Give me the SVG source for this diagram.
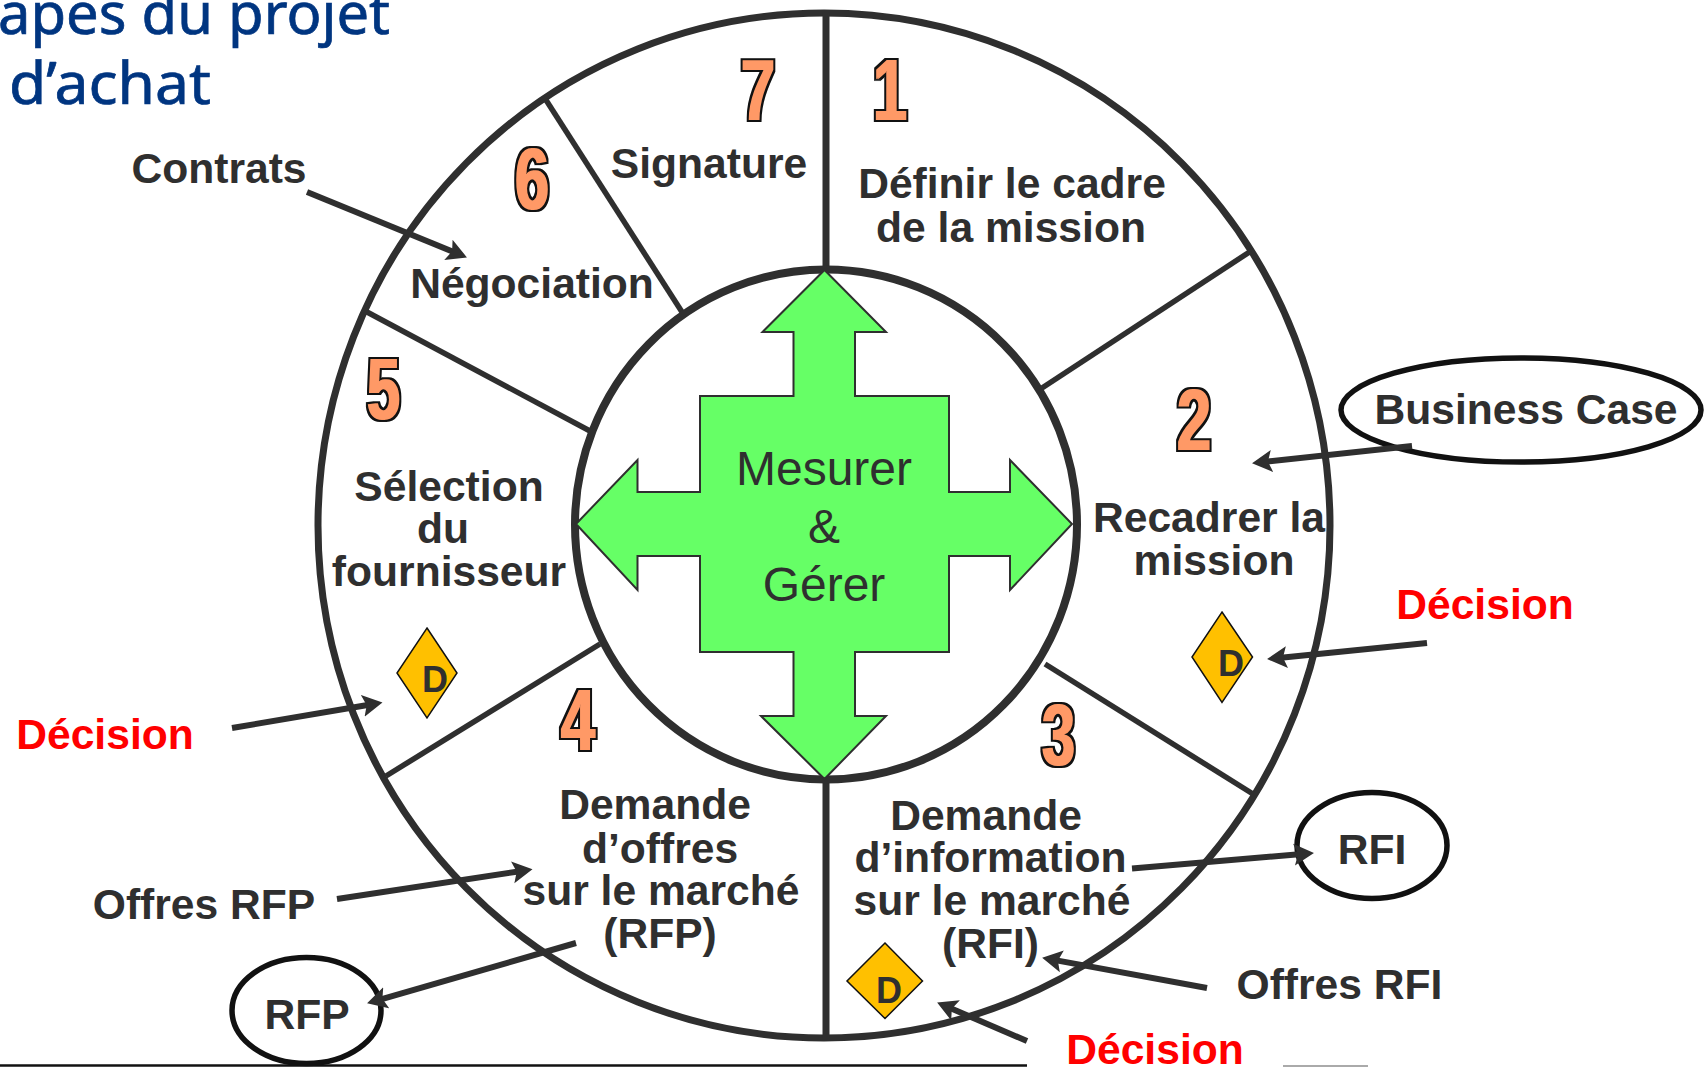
<svg xmlns="http://www.w3.org/2000/svg" width="1704" height="1067" viewBox="0 0 1704 1067">
<style>
text{font-family:"Liberation Sans",Arial,sans-serif}
.l{font-size:42.6px;font-weight:700;fill:#2f2f2f;text-anchor:middle}
.r{font-size:42.6px;font-weight:700;fill:#ff0000;text-anchor:middle}
.m{font-size:48px;fill:#2f2f2f;text-anchor:middle}
.n{font-size:88px;font-weight:700;fill:#ff9966;filter:url(#heavy)}
.t{font-family:"Noto Sans","Open Sans",sans-serif;font-size:58px;fill:#003580;stroke:#003580;stroke-width:.7px}
.d{font-size:36px;font-weight:700;fill:#2f2f2f;text-anchor:middle}
.dia{fill:#ffc000;stroke:#111;stroke-width:1.5}
.doc{fill:#fff;stroke:#111;stroke-width:5.5}
.ring{fill:#fff;stroke:#2f2f2f}
.sep{stroke:#2f2f2f;stroke-width:5.5;fill:none}
.axis{stroke:#2f2f2f;stroke-width:7;fill:none}
.arr{stroke:#2f2f2f;stroke-width:6;fill:none;marker-end:url(#ah)}
</style>
<defs>
<marker id="ah" markerUnits="userSpaceOnUse" markerWidth="22" markerHeight="24" viewBox="0 0 22 24" refX="11" refY="12" orient="auto">
<polygon points="0,1 20,12 0,23 4,12" fill="#2f2f2f"/>
</marker>
<filter id="heavy" x="-30%" y="-30%" width="160%" height="160%" color-interpolation-filters="sRGB">
<feMorphology in="SourceAlpha" operator="dilate" radius="2.6 1.8" result="a"/>
<feFlood flood-color="#111"/>
<feComposite in2="a" operator="in" result="b"/>
<feMorphology in="SourceAlpha" operator="dilate" radius="1.2 0.4" result="c"/>
<feFlood flood-color="#ff9966"/>
<feComposite in2="c" operator="in" result="e"/>
<feMerge><feMergeNode in="b"/><feMergeNode in="e"/></feMerge>
</filter>
</defs>
<rect width="1704" height="1067" fill="#fff"/>
<g id="title">
<text class="t" x="-2" y="34" textLength="392" lengthAdjust="spacingAndGlyphs">apes du projet</text>
<text class="t" x="9" y="104" textLength="202" lengthAdjust="spacingAndGlyphs">d’achat</text>
</g>
<g id="baseline">
<line x1="0" y1="1065.5" x2="1027" y2="1065.5" stroke="#111" stroke-width="2.5"/>
<line x1="1283" y1="1066" x2="1368" y2="1066" stroke="#aaa" stroke-width="2"/>
</g>
<g id="wheel">
<ellipse class="ring" cx="824" cy="525.5" rx="506" ry="512.5" stroke-width="7"/>
<line class="axis" x1="826" y1="13" x2="826" y2="269"/>
<line class="axis" x1="826" y1="780" x2="826" y2="1038"/>
<line class="sep" x1="546" y1="100" x2="682" y2="312"/>
<line class="sep" x1="367" y1="312" x2="590" y2="431"/>
<line class="sep" x1="1251" y1="251" x2="1042" y2="388"/>
<line class="sep" x1="1045" y1="664" x2="1253" y2="794"/>
<line class="sep" x1="600" y1="644" x2="386" y2="776"/>
<ellipse class="ring" cx="826" cy="524.5" rx="251" ry="255" stroke-width="8"/>
</g>
<g id="center">
<polygon points="824.5,270 886,332 855,332 855,396 949,396 949,492 1010,492 1010,460 1072,524 1010,590 1010,556 949,556 949,652 855,652 855,716 886,716 824.5,779 761,716 793.5,716 793.5,652 700,652 700,556 637.5,556 637.5,590 576,524 637.5,460 637.5,492 700,492 700,396 793.5,396 793.5,332 762.5,332" fill="#66ff66" stroke="#2f2f2f" stroke-width="2"/>
<text class="m" x="824" y="485">Mesurer</text>
<text class="m" x="824" y="543">&amp;</text>
<text class="m" x="824" y="601">Gérer</text>
</g>
<g id="step1">
<text class="n" x="873" y="120" textLength="34" lengthAdjust="spacingAndGlyphs">1</text>
<text class="l" x="1012" y="198">Définir le cadre</text>
<text class="l" x="1011" y="242">de la mission</text>
</g>
<g id="step2">
<text class="n" x="1177" y="450" textLength="34" lengthAdjust="spacingAndGlyphs">2</text>
<text class="l" x="1209" y="532">Recadrer la</text>
<text class="l" x="1214" y="575">mission</text>
<polygon class="dia" points="1222,612 1252.5,657 1222,702.5 1192,657"/>
<text class="d" x="1231" y="676">D</text>
</g>
<g id="step3">
<text class="n" x="1042" y="765" textLength="33" lengthAdjust="spacingAndGlyphs">3</text>
<text class="l" x="986" y="830">Demande</text>
<text class="l" x="990.5" y="872">d’information</text>
<text class="l" x="992" y="915">sur le marché</text>
<text class="l" x="990.5" y="958">(RFI)</text>
<polygon class="dia" points="885,943 922.5,981 885,1018.5 847,981"/>
<text class="d" x="889" y="1003">D</text>
</g>
<g id="step4">
<text class="n" x="561" y="750" textLength="34" lengthAdjust="spacingAndGlyphs">4</text>
<text class="l" x="655" y="819">Demande</text>
<text class="l" x="660" y="863">d’offres</text>
<text class="l" x="661" y="905">sur le marché</text>
<text class="l" x="660" y="948">(RFP)</text>
</g>
<g id="step5">
<text class="n" x="367" y="419" textLength="33" lengthAdjust="spacingAndGlyphs">5</text>
<text class="l" x="449" y="501">Sélection</text>
<text class="l" x="443" y="543">du</text>
<text class="l" x="449" y="586">fournisseur</text>
<polygon class="dia" points="427,628 457,673 427,718 397,673"/>
<text class="d" x="435" y="692">D</text>
</g>
<g id="step6">
<text class="n" x="515" y="209" textLength="34" lengthAdjust="spacingAndGlyphs">6</text>
<text class="l" x="532" y="298">Négociation</text>
</g>
<g id="step7">
<text class="n" x="741" y="120" textLength="34" lengthAdjust="spacingAndGlyphs">7</text>
<text class="l" x="709" y="178">Signature</text>
</g>
<g id="contrats"><text class="l" x="219" y="183">Contrats</text></g>
<g id="business-case">
<ellipse class="doc" cx="1521" cy="410" rx="180" ry="52"/>
<text class="l" x="1526" y="424">Business Case</text>
</g>
<g id="rfi">
<ellipse class="doc" cx="1372" cy="845.5" rx="75" ry="53"/>
<text class="l" x="1372" y="864">RFI</text>
</g>
<g id="rfp">
<ellipse class="doc" cx="306.5" cy="1010.5" rx="74.5" ry="53"/>
<text class="l" x="307" y="1029">RFP</text>
</g>
<g id="offres-rfi"><text class="l" x="1339.5" y="999">Offres RFI</text></g>
<g id="offres-rfp"><text class="l" x="204" y="919">Offres RFP</text></g>
<g id="decision-right"><text class="r" x="1485" y="619">Décision</text></g>
<g id="decision-bottom"><text class="r" x="1155" y="1064">Décision</text></g>
<g id="decision-left"><text class="r" x="105" y="749">Décision</text></g>
<g id="connectors">
<line class="arr" x1="307" y1="192" x2="458.6" y2="254"/>
<line class="arr" x1="1412" y1="446" x2="1261" y2="462.2"/>
<line class="arr" x1="1427" y1="643" x2="1276" y2="658.2"/>
<line class="arr" x1="1132" y1="868.5" x2="1305" y2="853.7"/>
<line class="arr" x1="1207" y1="988" x2="1051" y2="959.4"/>
<line class="arr" x1="1027" y1="1041" x2="945.4" y2="1006"/>
<line class="arr" x1="232" y1="728" x2="373.6" y2="704"/>
<line class="arr" x1="337" y1="899" x2="523.6" y2="870.7"/>
<line class="arr" x1="576" y1="943" x2="375.7" y2="1000.8"/>
</g>
</svg>
